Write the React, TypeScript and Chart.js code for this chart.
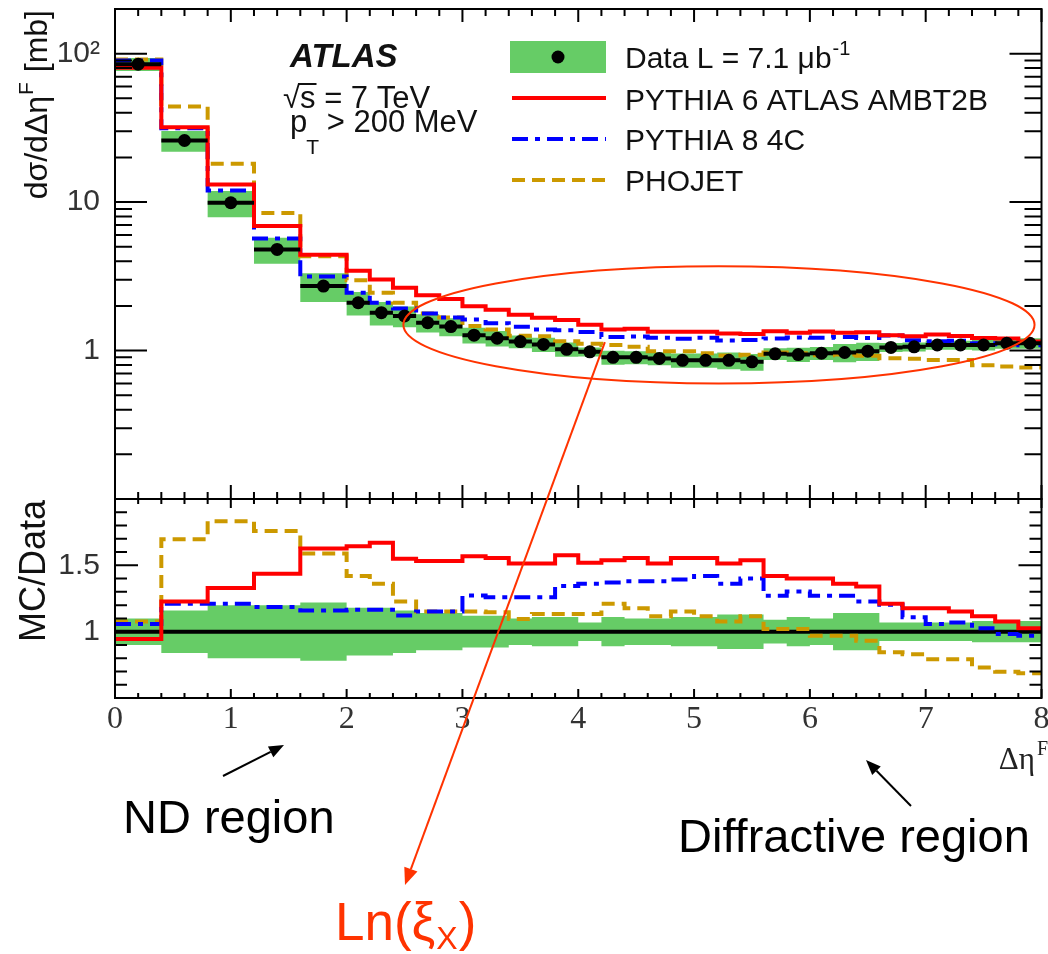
import React, { useEffect, useRef } from 'react';
import { Chart, registerables } from 'chart.js';

Chart.register(...registerables);

// ---------------- data ----------------
const binEdges = [
  0, 0.4, 0.8, 1.2, 1.6, 2.0, 2.2, 2.4, 2.6, 2.8, 3.0, 3.2, 3.4, 3.6, 3.8, 4.0, 4.2, 4.4,
  4.6, 4.8, 5.0, 5.2, 5.4, 5.6, 5.8, 6.0, 6.2, 6.4, 6.6, 6.8, 7.0, 7.2, 7.4, 7.6, 7.8, 8.0,
];

// dσ/dΔη^F [mb], data
const dataXsec = [
  85, 26, 9.9, 4.8, 2.72, 2.1, 1.8, 1.71, 1.54, 1.45, 1.27, 1.21, 1.15, 1.1, 1.02, 0.98, 0.9,
  0.9, 0.885, 0.86, 0.86, 0.86, 0.84, 0.95, 0.94, 0.96, 0.97, 0.99, 1.05, 1.06, 1.09, 1.09,
  1.09, 1.12, 1.12,
];

// relative total uncertainty of the data (green band)
const dataRelErr = [
  0.1, 0.16, 0.2, 0.2, 0.22, 0.18, 0.18, 0.16, 0.14, 0.14, 0.12, 0.12, 0.1, 0.11, 0.11, 0.07,
  0.11, 0.1, 0.1, 0.11, 0.11, 0.13, 0.13, 0.09, 0.11, 0.1, 0.14, 0.14, 0.07, 0.07, 0.07, 0.07,
  0.08, 0.08, 0.08,
];

// MC / Data ratios
const ratioPythia6 = [
  0.945, 1.227, 1.33, 1.437, 1.626, 1.644, 1.67, 1.55, 1.533, 1.533, 1.568, 1.556, 1.513, 1.513,
  1.576, 1.52, 1.538, 1.556, 1.513, 1.556, 1.556, 1.513, 1.538, 1.42, 1.4, 1.4, 1.361, 1.34,
  1.21, 1.177, 1.177, 1.152, 1.116, 1.076, 1.026,
];
const ratioPythia8 = [
  1.058, 1.21, 1.21, 1.185, 1.159, 1.166, 1.166, 1.121, 1.152, 1.152, 1.273, 1.26, 1.26, 1.26,
  1.344, 1.361, 1.37, 1.38, 1.38, 1.394, 1.42, 1.361, 1.4, 1.27, 1.303, 1.27, 1.27, 1.227,
  1.202, 1.109, 1.058, 1.07, 1.026, 0.983, 0.97,
];
const ratioPhojet = [
  1.076, 1.697, 1.833, 1.758, 1.589, 1.42, 1.361, 1.227, 1.152, 1.152, 1.152, 1.147, 1.096,
  1.134, 1.134, 1.134, 1.21, 1.177, 1.116, 1.152, 1.116, 1.076, 1.116, 1.02, 1.02, 0.97, 0.97,
  0.932, 0.844, 0.83, 0.793, 0.793, 0.73, 0.697, 0.687,
];

const xTickValues = [0, 1, 2, 3, 4, 5, 6, 7, 8];
const yTickValues = [1, 10, 100];
const ratioTickValues = [1, 1.5];
const seriesLabels = ['Data L = 7.1 μb', 'PYTHIA 6 ATLAS AMBT2B', 'PYTHIA 8 4C', 'PHOJET'];

// ---------------- styles ----------------
const GREEN = '#66cc66';
const RED = '#ff0000';
const BLUE = '#0000ff';
const GOLD = '#cc9900';
const ANNOT = '#ff3300';
const DASH_DOT = [16, 7, 5, 7];
const DASHED = [13, 7];
const SANS = 'Liberation Sans';
const SERIF = 'Liberation Serif';

// ---------------- helpers ----------------
type Pt = { x: number; y: number | null };

function stepPoints(vals: number[]): Pt[] {
  const pts: Pt[] = vals.map((v, i) => ({ x: binEdges[i], y: v }));
  pts.push({ x: binEdges[vals.length], y: vals[vals.length - 1] });
  return pts;
}

function barPoints(vals: number[]): Pt[] {
  const pts: Pt[] = [];
  vals.forEach((v, i) => {
    pts.push({ x: binEdges[i], y: v }, { x: binEdges[i + 1], y: v }, { x: binEdges[i + 1], y: null });
  });
  return pts;
}

const centers = dataXsec.map((_, i) => (binEdges[i] + binEdges[i + 1]) / 2);
const mcPythia6 = dataXsec.map((d, i) => d * ratioPythia6[i]);
const mcPythia8 = dataXsec.map((d, i) => d * ratioPythia8[i]);
const mcPhojet = dataXsec.map((d, i) => d * ratioPhojet[i]);

function histDs(pts: Pt[], axis: string, color: string, dash: number[], order: number) {
  return {
    type: 'line' as const,
    data: pts,
    yAxisID: axis,
    borderColor: color,
    borderWidth: 4,
    borderDash: dash,
    stepped: true,
    pointRadius: 0,
    fill: false,
    order,
  };
}

function bandDs(lo: number[], hi: number[], axis: string, loIndex: number) {
  return [
    {
      type: 'line' as const,
      data: stepPoints(lo),
      yAxisID: axis,
      borderWidth: 0,
      borderColor: 'rgba(0,0,0,0)',
      stepped: true,
      pointRadius: 0,
      fill: false,
      order: 20,
    },
    {
      type: 'line' as const,
      data: stepPoints(hi),
      yAxisID: axis,
      borderWidth: 0,
      borderColor: 'rgba(0,0,0,0)',
      backgroundColor: GREEN,
      stepped: true,
      pointRadius: 0,
      fill: loIndex,
      order: 20,
    },
  ];
}

function arrow(ctx: CanvasRenderingContext2D, x1: number, y1: number, x2: number, y2: number,
  color: string, lw: number, headLen: number, headW: number) {
  const a = Math.atan2(y2 - y1, x2 - x1);
  const bx = x2 - headLen * Math.cos(a);
  const by = y2 - headLen * Math.sin(a);
  ctx.save();
  ctx.strokeStyle = color;
  ctx.fillStyle = color;
  ctx.lineWidth = lw;
  ctx.beginPath();
  ctx.moveTo(x1, y1);
  ctx.lineTo(bx, by);
  ctx.stroke();
  ctx.beginPath();
  ctx.moveTo(x2, y2);
  ctx.lineTo(bx + headW * Math.sin(a), by - headW * Math.cos(a));
  ctx.lineTo(bx - headW * Math.sin(a), by + headW * Math.cos(a));
  ctx.closePath();
  ctx.fill();
  ctx.restore();
}

// ---------------- plugin: frame, ticks, legend, annotations ----------------
const decorPlugin = {
  id: 'decor',
  afterDatasetsDraw(chart: any) {
    const ctx: CanvasRenderingContext2D = chart.ctx;
    const xs = chart.scales.x;
    const ys = chart.scales.y;
    const rs = chart.scales.yRatio;
    const L = xs.left;
    const R = xs.right;
    ctx.save();
    ctx.strokeStyle = '#000';
    ctx.lineWidth = 2;
    ctx.strokeRect(L, ys.top, R - L, ys.bottom - ys.top);
    ctx.strokeRect(L, rs.top, R - L, rs.bottom - rs.top);
    ctx.beginPath();
    const seg = (a: number, b: number, c: number, d: number) => {
      ctx.moveTo(a, b);
      ctx.lineTo(c, d);
    };
    for (let k = 0; k <= 40; k++) {
      const px = xs.getPixelForValue(k * 0.2);
      const major = k % 5 === 0;
      seg(px, ys.top, px, ys.top + (major ? 13 : 7));
      seg(px, ys.bottom, px, ys.bottom - (major ? 14 : 7));
      seg(px, rs.top, px, rs.top + (major ? 9 : 5));
      seg(px, rs.bottom, px, rs.bottom - (major ? 9 : 5));
    }
    for (const dec of [0.1, 1, 10, 100]) {
      for (let m = 1; m <= 9; m++) {
        const v = dec * m;
        if (v <= 0.1 || v >= 200) continue;
        const py = ys.getPixelForValue(v);
        const len = m === 1 ? 32 : 17;
        seg(L, py, L + len, py);
        seg(R, py, R - len, py);
      }
    }
    for (let k = 6; k <= 19; k++) {
      const py = rs.getPixelForValue(k / 10);
      const len = k % 5 === 0 ? 23 : 12;
      seg(L, py, L + len, py);
      seg(R, py, R - len, py);
    }
    ctx.stroke();
    ctx.restore();
  },
  afterDraw(chart: any) {
    const ctx: CanvasRenderingContext2D = chart.ctx;
    const xs = chart.scales.x;
    const ys = chart.scales.y;
    const rs = chart.scales.yRatio;
    const ink = '#111';

    // ----- legend -----
    ctx.save();
    ctx.fillStyle = GREEN;
    ctx.fillRect(510, 41, 96, 32);
    ctx.fillStyle = '#000';
    ctx.beginPath();
    ctx.arc(558, 57, 6.5, 0, Math.PI * 2);
    ctx.fill();
    const legLine = (y: number, color: string, dash: number[]) => {
      ctx.save();
      ctx.strokeStyle = color;
      ctx.lineWidth = 4;
      ctx.setLineDash(dash);
      ctx.beginPath();
      ctx.moveTo(512, y);
      ctx.lineTo(606, y);
      ctx.stroke();
      ctx.restore();
    };
    legLine(98, RED, []);
    legLine(139, BLUE, DASH_DOT);
    legLine(180, GOLD, DASHED);
    ctx.fillStyle = ink;
    ctx.textAlign = 'left';
    ctx.textBaseline = 'alphabetic';
    ctx.font = `30px "${SANS}"`;
    ctx.fillText(seriesLabels[0], 625, 68);
    const w0 = ctx.measureText(seriesLabels[0]).width;
    ctx.font = `20px "${SANS}"`;
    ctx.fillText('-1', 625 + w0 + 1, 55);
    ctx.font = `30px "${SANS}"`;
    ctx.fillText(seriesLabels[1], 625, 110);
    ctx.fillText(seriesLabels[2], 625, 150);
    ctx.fillText(seriesLabels[3], 625, 191);

    // ----- ATLAS labels -----
    ctx.font = `italic bold 33px "${SANS}"`;
    ctx.fillText('ATLAS', 290, 67);
    ctx.font = `31px "${SANS}"`;
    ctx.fillText('√', 283, 108);
    const wr = ctx.measureText('√').width;
    ctx.fillText('s = 7 TeV', 283 + wr, 108);
    const ws = ctx.measureText('s').width;
    ctx.lineWidth = 2;
    ctx.strokeStyle = ink;
    ctx.beginPath();
    ctx.moveTo(283 + wr - 2, 84);
    ctx.lineTo(283 + wr + ws + 1, 84);
    ctx.stroke();
    ctx.fillText('p', 290, 132);
    const wp = ctx.measureText('p').width;
    ctx.font = `21px "${SANS}"`;
    ctx.fillText('T', 290 + wp - 1, 154);
    const wt = ctx.measureText('T').width;
    ctx.font = `31px "${SANS}"`;
    ctx.fillText(' > 200 MeV', 290 + wp + wt - 2, 132);

    // ----- axis titles -----
    ctx.save();
    ctx.translate(47, ys.top + 1);
    ctx.rotate(-Math.PI / 2);
    ctx.font = `32px "${SANS}"`;
    const t1 = 'dσ/dΔη';
    const t3 = ' [mb]';
    const w1 = ctx.measureText(t1).width;
    const w3 = ctx.measureText(t3).width;
    ctx.font = `21px "${SANS}"`;
    const w2 = ctx.measureText('F').width + 2;
    const W = w1 + w2 + w3;
    ctx.font = `32px "${SANS}"`;
    ctx.fillText(t1, -W, 0);
    ctx.fillText(t3, -W + w1 + w2, 0);
    ctx.font = `21px "${SANS}"`;
    ctx.fillText('F', -W + w1 + 1, -14);
    ctx.restore();

    ctx.save();
    ctx.translate(45, rs.top + 1);
    ctx.rotate(-Math.PI / 2);
    ctx.font = `36px "${SANS}"`;
    ctx.textAlign = 'right';
    ctx.fillText('MC/Data', 0, 0);
    ctx.restore();

    ctx.fillStyle = '#222';
    ctx.font = `31px "${SERIF}"`;
    ctx.textAlign = 'right';
    ctx.fillText('Δη', 1035, 769);
    ctx.textAlign = 'left';
    ctx.font = `20px "${SERIF}"`;
    ctx.fillText('F', 1037, 755);

    // ----- annotations -----
    // ellipse around the diffractive plateau (given in data coordinates)
    const exL = xs.getPixelForValue(2.49);
    const exR = xs.getPixelForValue(7.94);
    const eyT = ys.getPixelForValue(3.7);
    const eyB = ys.getPixelForValue(0.6);
    ctx.strokeStyle = ANNOT;
    ctx.lineWidth = 2;
    ctx.beginPath();
    ctx.ellipse((exL + exR) / 2, (eyT + eyB) / 2, (exR - exL) / 2, (eyB - eyT) / 2, 0, 0, Math.PI * 2);
    ctx.stroke();

    const bottom = rs.bottom;
    arrow(ctx, xs.getPixelForValue(4.23), ys.getPixelForValue(1.14), 405, bottom + 187, ANNOT, 2, 17, 7);
    arrow(ctx, 223, bottom + 78, 284, bottom + 47, '#000', 2, 15, 6);
    arrow(ctx, 911, bottom + 108, 866, bottom + 62, '#000', 2, 15, 6);

    ctx.fillStyle = '#000';
    ctx.font = `47px "${SANS}"`;
    ctx.textAlign = 'left';
    ctx.fillText('ND region', 123, bottom + 135);
    ctx.fillText('Diffractive region', 678, bottom + 154);

    ctx.fillStyle = ANNOT;
    ctx.font = `53px "${SANS}"`;
    const lnA = 'Ln(ξ';
    ctx.fillText(lnA, 335, bottom + 242);
    const wa = ctx.measureText(lnA).width;
    ctx.font = `32px "${SANS}"`;
    ctx.fillText('X', 335 + wa + 1, bottom + 251);
    const wx = ctx.measureText('X').width;
    ctx.font = `53px "${SANS}"`;
    ctx.fillText(')', 335 + wa + wx + 2, bottom + 242);
    ctx.restore();
  },
};

// ---------------- datasets ----------------
function buildDatasets() {
  const ds: any[] = [];
  // top panel band (indices 0,1)
  ds.push(...bandDs(
    dataXsec.map((d, i) => d * (1 - dataRelErr[i])),
    dataXsec.map((d, i) => d * (1 + dataRelErr[i])),
    'y', 0));
  ds.push(histDs(stepPoints(mcPhojet), 'y', GOLD, DASHED, 5));
  ds.push(histDs(stepPoints(mcPythia8), 'y', BLUE, DASH_DOT, 4));
  ds.push(histDs(stepPoints(mcPythia6), 'y', RED, [], 3));
  ds.push({
    type: 'line', data: barPoints(dataXsec), yAxisID: 'y', borderColor: '#000', borderWidth: 4,
    pointRadius: 0, spanGaps: false, fill: false, order: 2,
  });
  ds.push({
    type: 'line', data: centers.map((c, i) => ({ x: c, y: dataXsec[i] })), yAxisID: 'y',
    showLine: false, pointRadius: 6.5, pointBackgroundColor: '#000', pointBorderWidth: 0,
    fill: false, order: 1,
  });
  // ratio panel band (indices 7,8)
  ds.push(...bandDs(
    dataRelErr.map((e) => 1 - e),
    dataRelErr.map((e) => 1 + e),
    'yRatio', 7));
  ds.push({
    type: 'line', data: [{ x: 0, y: 1 }, { x: 8, y: 1 }], yAxisID: 'yRatio', borderColor: '#000',
    borderWidth: 4, pointRadius: 0, fill: false, order: 6,
  });
  ds.push(histDs(stepPoints(ratioPhojet), 'yRatio', GOLD, DASHED, 5));
  ds.push(histDs(stepPoints(ratioPythia8), 'yRatio', BLUE, DASH_DOT, 4));
  ds.push(histDs(stepPoints(ratioPythia6), 'yRatio', RED, [], 3));
  return ds;
}

export default function App() {
  const ref = useRef<HTMLCanvasElement>(null);
  useEffect(() => {
    const canvas = ref.current;
    if (!canvas) return;
    const noGrid = { display: false, drawTicks: false };
    const chart = new Chart(canvas, {
      type: 'line',
      data: { datasets: buildDatasets() },
      options: {
        animation: false,
        responsive: false,
        devicePixelRatio: 1,
        events: [],
        layout: { padding: { top: 9, right: 1, bottom: 0, left: 0 } },
        plugins: { legend: { display: false }, tooltip: { enabled: false } },
        scales: {
          x: {
            type: 'linear', min: 0, max: 8, position: 'bottom',
            grid: noGrid, border: { display: false },
            ticks: {
              padding: 2, color: '#333', maxRotation: 0, autoSkip: false,
              font: { family: SERIF, size: 32 },
              callback: (v: any) => String(v),
            },
            afterBuildTicks: (s: any) => { s.ticks = xTickValues.map((v) => ({ value: v })); },
            afterFit: (s: any) => { s.height = 256; s.paddingLeft = 0; s.paddingRight = 0; },
          },
          yRatio: {
            type: 'linear', axis: 'y', min: 0.5, max: 2.0, position: 'left', stack: 'panels', stackWeight: 199, weight: 1,
            grid: noGrid, border: { display: false },
            ticks: {
              padding: 15, color: '#333', autoSkip: false,
              font: { family: SANS, size: 30 },
              callback: (v: any) => String(v),
            },
            afterBuildTicks: (s: any) => { s.ticks = ratioTickValues.map((v) => ({ value: v })); },
            afterFit: (s: any) => { s.width = 115; s.paddingTop = 0; s.paddingBottom = 0; },
          },
          y: {
            type: 'logarithmic', min: 0.1, max: 200, position: 'left', stack: 'panels', stackWeight: 490, weight: 2,
            grid: noGrid, border: { display: false },
            ticks: {
              padding: 15, color: '#333', autoSkip: false,
              font: { family: SANS, size: 30 },
              callback: (v: any) => (Number(v) === 100 ? '10²' : String(v)),
            },
            afterBuildTicks: (s: any) => { s.ticks = yTickValues.map((v) => ({ value: v })); },
            afterFit: (s: any) => { s.width = 115; s.paddingTop = 0; s.paddingBottom = 0; },
          },
        },
      } as any,
      plugins: [decorPlugin],
    });
    return () => chart.destroy();
  }, []);
  return (
    <div style={{ position: 'absolute', left: 0, top: 0, width: 1048, height: 954, background: '#fff' }}>
      <canvas ref={ref} width={1048} height={954} style={{ display: 'block', width: 1048, height: 954 }} />
    </div>
  );
}
